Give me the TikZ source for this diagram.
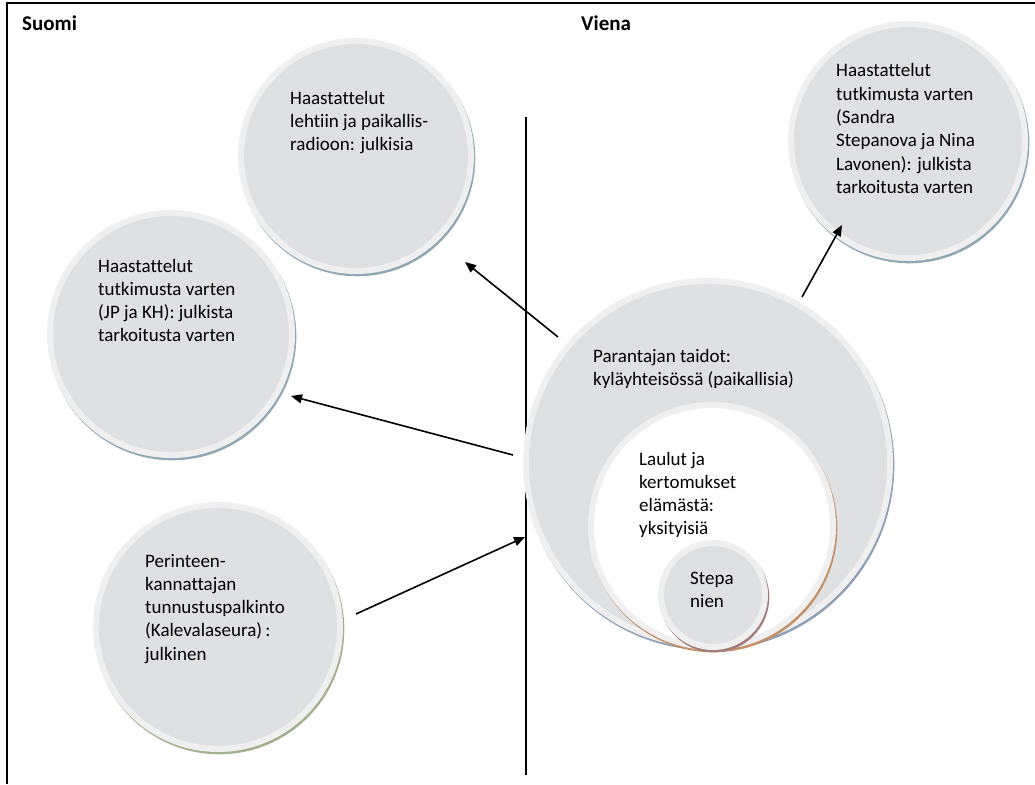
\documentclass[tikz,border=0pt]{standalone}
\usepackage{fontspec}
\setmainfont{Carlito}[Ligatures=NoCommon]
\usetikzlibrary{arrows.meta}
\definecolor{bubfill}{HTML}{DFE0E2}
\definecolor{bubring}{HTML}{EFEFEF}
\definecolor{shblue}{HTML}{8FA8B3}
\definecolor{shslate}{HTML}{8E9FB6}
\definecolor{shgreen}{HTML}{A3B08C}
\definecolor{shorange}{HTML}{C39066}
\definecolor{shred}{HTML}{A27C7C}
\begin{document}
\begin{tikzpicture}[x=1pt,y=-1pt,
  bub/.style={circle, inner sep=0pt, minimum size=#1, line width=6pt, draw=bubring, fill=bubfill},
  shadowed/.style={preaction={draw=#1, fill=#1, line width=6pt,
      transform canvas={shift={(1.3pt,-2.3pt)}}}},
  txt/.style={anchor=base west, inner sep=0pt, font=\fontsize{19pt}{23.3pt}\selectfont},
  title/.style={anchor=base west, inner sep=0pt, font=\fontsize{21pt}{25pt}\selectfont\bfseries},
  conn/.style={line width=1.6pt, -{Triangle[length=11pt,width=9pt]}},
  frame/.style={line width=1.6pt}]
\useasboundingbox (0,0) rectangle (1035,784);

% outer frame and column divider
\draw[frame] (7,784) -- (7,3) -- (1035,3);
\node[title] (suomi) at (22,31) {Suomi};
\node[title] (viena) at (581,31) {Viena};
\draw[line width=1.5pt] (526,117) -- (526,775);

% bubbles
\node[bub=230pt, shadowed=shblue] (lehdet) at (356,156) {};
\node[bub=242pt, shadowed=shblue] (jpkh) at (171,334) {};
\node[bub=234pt, shadowed=shblue] (sandra) at (908,141) {};
\node[bub=244pt, shadowed=shgreen] (palkinto) at (218,627) {};
\node[bub=364pt, shadowed=shslate] (parantaja) at (708,463) {};
\node[bub=242pt, fill=white, shadowed=shorange] (laulut) at (712,526) {};
\node[bub=104pt, shadowed=shred] (stepa) at (713,595) {};

% bubble texts
\node[txt] (tlehdet) at (290,104) {\parbox[t]{170pt}{Haastattelut\\lehtiin ja paikallis-\\radioon: julkisia}};
\node[txt] (tjpkh) at (98,272) {\parbox[t]{190pt}{Haastattelut\\tutkimusta varten\\(JP ja KH): julkista\\tarkoitusta varten}};
\node[txt] (tsandra) at (836,77) {\parbox[t]{180pt}{Haastattelut\\tutkimusta varten\\(Sandra\\Stepanova ja Nina\\Lavonen): julkista\\tarkoitusta varten}};
\node[txt] (tpalkinto) at (145,567) {\parbox[t]{190pt}{Perinteen-\\kannattajan\\tunnustuspalkinto\\(Kalevalaseura)\,:\\julkinen}};
\node[txt] (tparantaja) at (593,362) {\parbox[t]{240pt}{Parantajan taidot:\\kyläyhteisössä (paikallisia)}};
\node[txt] (tlaulut) at (639,465) {\parbox[t]{150pt}{Laulut ja\\kertomukset\\elämästä:\\yksityisiä}};
\node[txt] (tstepa) at (690,584) {\parbox[t]{80pt}{Stepa\\nien}};

% connector end points
\coordinate (a1s) at (558,337);
\coordinate (a1e) at (465,262);
\coordinate (a2s) at (513,455);
\coordinate (a2e) at (291,396);
\coordinate (a3s) at (356,614);
\coordinate (a3e) at (525,537);
\coordinate (a4s) at (802,297);
\coordinate (a4e) at (842,225);

\draw[conn] (a1s) -- (a1e);
\draw[conn] (a2s) -- (a2e);
\draw[conn] (a3s) -- (a3e);
\draw[conn] (a4s) -- (a4e);
\end{tikzpicture}
\end{document}
